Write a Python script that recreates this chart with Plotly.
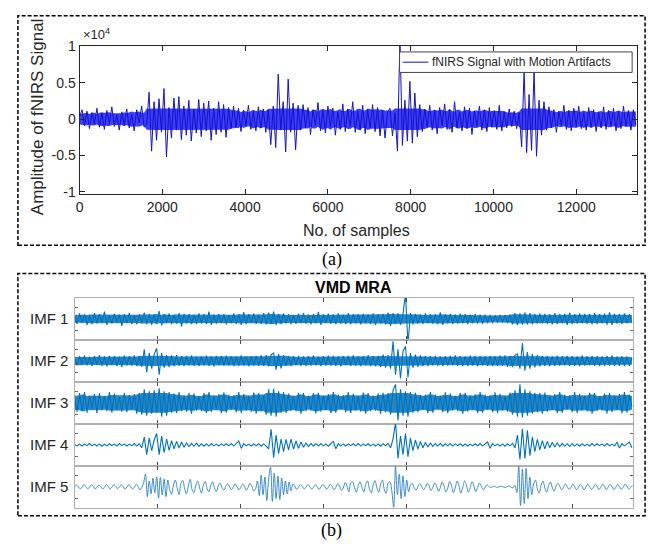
import numpy as np
import pandas as pd
import plotly.graph_objects as go

W, H = 656, 548

# ---------------------------------------------------------------------------
# Data
# ---------------------------------------------------------------------------
n_samples = 13470

# Raw fNIRS amplitude, one reading every 60 samples
fnirs_step = 60
fnirs_signal = [
    300, 1300, -900, 1100, -1300, 900, -700, 1500, -1100, 800,
    -1400, 1200, -600, 1700, -1000, 600, -1500, 1000, -800, 1400,
    -1200, 700, -1600, 1300, -500, 1800, -1100, -800, 3700, -4400,
    2400, -2900, 2800, -1800, 4200, -5200, 1600, -2600, 2900, -1500,
    3100, -2800, 1800, -2200, 2600, -3000, 1400, -1900, 2700, -2400,
    2200, -1600, 2500, -2900, 1500, -2100, 2400, -1800, 2000, -2500,
    1600, -1300, 1800, -1100, 1500, -1700, 1200, -900, 1900, -1400,
    1100, -1600, 1700, -1200, 1400, -1800, 1300, -3500, 1800, -3900,
    6200, -1500, 2400, -4500, 5500, -1800, 2200, -4200, 1900, -1500,
    2000, -1200, 1600, -2100, 1300, -900, 2300, -1600, 1200, -1900,
    1800, -1100, 1500, -2200, 1000, -1400, 2100, -1700, 1400, -1000,
    2400, -1800, 1100, -1500, 1900, -2000, 1300, -1200, 2000, -1700,
    1600, -2300, 1200, -2600, 900, 1500, -2300, 900, -4400, 11000,
    -3600, 2600, -3000, 5200, -3300, 3600, -2400, 2000, -1700, 1400,
    -1100, 1900, -1500, 1200, -2000, 1600, -900, 2100, -1400, 1300,
    -1800, 2400, -1200, 1000, -1600, 1700, -1300, 1500, -2100, 1100,
    -1000, 1800, -1500, 1300, -1700, 1600, -1100, 1200, -1400, 1900,
    -1600, 1000, -1200, 1400, -1000, 1100, -1300, 900, -3800, 6600,
    -4600, 3400, -4300, 6600, -5100, 2600, -2200, 2400, -1500, 1700,
    -1200, 1300, -1800, 1100, -900, 1900, -1400, 1200, -1600, 1500,
    -1000, 1800, -1300, 900, -1500, 1600, -1100, 1300, -1700, 1000,
    -1200, 1700, -1400, 1200, -900, 1500, -1600, 1100, -1300, 1800,
    -1000, 1200, -1500, 1300, -800,
]

# VMD intrinsic mode functions (arbitrary units), one reading every 60 samples
imf_step = 60
imf1 = [
    150, -250, 280, -200, 230, -300, 180, -260, 300, -220,
    250, -180, 380, -300, 200, -240, 260, -200, 220, -350,
    240, -210, 300, -260, 190, -280, 250, -230, 320, -270,
    260, -300, 230, -250, 400, -330, 240, -200, 280, -260,
    220, -240, 300, -380, 260, -220, 240, -270, 210, -250,
    290, -230, 250, -260, 370, -300, 220, -240, 260, -210,
    240, -280, 200, -230, 280, -250, 230, -300, 350, -260,
    240, -200, 270, -250, 220, -260, 300, -280, 330, -260,
    380, -300, 250, -260, 280, -230, 240, -270, 210, -250,
    260, -220, 300, -240, 230, -280, 250, -230, 360, -300,
    240, -200, 270, -250, 230, -260, 280, -240, 220, -260,
    300, -270, 250, -230, 240, -280, 260, -220, 230, -250,
    280, -300, 250, -240, 260, -280, 320, -350, 300, -260,
    280, -300, 250, 1300, -1300, 300, -280, 260, -240, 230,
    -260, 280, -220, 250, -240, 230, -270, 340, -300, 240,
    -220, 260, -250, 230, -240, 270, -230, 250, -260, 220,
    -230, 260, -240, 220, -250, 220, -210, 200, -220, 190,
    -200, 210, -190, 200, -210, 230, -280, 300, -320, 280,
    -290, 320, -280, 300, -260, 250, -240, 270, -230, 260,
    -250, 230, -280, 300, -260, 240, -220, 260, -300, 330,
    -270, 250, -240, 280, -230, 260, -250, 240, -280, 300,
    -260, 250, -230, 270, -290, 340, -300, 260, -240, 250,
    -260, 280, -230, 250, -200,
]
imf2 = [
    120, -240, 260, -200, 280, -230, 210, -270, 250, -220,
    300, -250, 230, -280, 260, -210, 240, -260, 220, -300,
    270, -230, 250, -240, 290, -260, 230, -300, 600, -580,
    420, -400, 350, 650, -700, 400, -350, 300, -320, 280,
    -260, 300, -250, 240, -270, 260, -230, 280, -250, 220,
    -260, 240, -230, 270, -250, 230, -280, 260, -220, 250,
    -240, 270, -230, 250, -260, 220, -250, 280, -240, 230,
    -270, 250, -230, 260, -240, 280, -250, 300, -280, 320,
    400, -450, 350, -380, 300, -270, 250, -260, 240, -230,
    260, -250, 230, -270, 250, -240, 280, -230, 220, -260,
    250, -240, 270, -230, 260, -250, 230, -280, 240, -220,
    260, -250, 280, -240, 230, -270, 250, -230, 300, -260,
    240, -280, 260, -300, 320, -350, 300, -400, 1000, -700,
    600, -900, 500, 750, -850, 400, -350, 320, -300, 280,
    -260, 250, -270, 240, -230, 260, -250, 230, -270, 250,
    -240, 260, -230, 280, -250, 240, -260, 230, -250, 270,
    -230, 240, -260, 250, -220, 230, -250, 240, -260, 230,
    -250, 270, -240, 280, -300, 260, -320, 300, 350, -400,
    900, -500, 450, -400, 350, -330, 300, -280, 260, -250,
    240, -260, 230, -250, 270, -240, 250, -230, 260, -270,
    240, -250, 230, -260, 280, -240, 250, -230, 260, -250,
    240, -270, 230, -250, 260, -240, 280, -260, 230, -250,
    240, -260, 230, -250, 150,
]
imf3 = [
    200, -450, 500, -400, 550, -500, 350, -300, 450, -520,
    500, -380, 330, -420, 550, -500, 480, -350, 300, -450,
    520, -480, 400, -330, 450, -550, 500, -600, 700, -650,
    600, -550, 650, -500, 750, -700, 600, -650, 550, -500,
    480, -520, 550, -420, 380, -450, 520, -550, 480, -400,
    350, -420, 500, -530, 550, -450, 380, -350, 450, -520,
    540, -500, 420, -350, 400, -480, 550, -520, 450, -380,
    350, -450, 530, -550, 500, -400, 380, -600, 700, -650,
    720, -700, 600, -500, 550, -520, 480, -400, 350, -430,
    520, -550, 500, -420, 360, -400, 500, -540, 520, -450,
    380, -360, 450, -530, 550, -500, 420, -350, 400, -480,
    550, -520, 460, -380, 350, -450, 530, -550, 500, -420,
    380, -400, 480, -550, 520, -480, 500, -600, 650, 950,
    -900, 700, -650, 600, -700, 550, -500, 520, -480, 400,
    -360, 430, -520, 550, -500, 420, -350, 380, -470, 540,
    -530, 480, -400, 360, -420, 510, -550, 520, -450, 380,
    -350, 440, -520, 550, -500, 420, -360, 400, -480, 540,
    -520, 460, -380, 350, -450, 530, -600, 650, -700, 950,
    -750, 700, -650, 600, -550, 520, -480, 500, -550, 530,
    -450, 380, -360, 450, -530, 550, -500, 420, -350, 400,
    -480, 550, -520, 450, -380, 360, -440, 520, -550, 500,
    -420, 350, -400, 480, -540, 520, -460, 380, -350, 450,
    -530, 550, -500, 420, -200,
]
imf4 = [
    20, -50, 40, -60, 50, -40, 70, -50, 40, -60,
    50, -70, 40, -50, 60, -40, 50, -60, 70, -40,
    50, -60, 40, -50, 70, -60, 50, -150, 400, -500,
    350, -300, 250, 580, -500, 450, -400, 300, -280, 220,
    -200, 180, -160, 150, -120, 100, -90, 80, -70, 90,
    -80, 60, -70, 50, -60, 70, -50, 40, -60, 50,
    -40, 60, -50, 70, -60, 50, 200, -180, 60, -50,
    40, -60, 50, -40, 60, -70, 50, -60, -200, 800,
    -650, 500, -450, 300, -350, 280, -250, 300, -220, 200,
    -180, 150, -120, 100, -90, 80, -70, 60, -50, 70,
    -60, 50, -70, 60, 180, -200, 60, -50, 40, -60,
    50, -40, 60, -50, 70, -60, 50, -40, 60, -50,
    40, -60, 50, -70, 60, -50, 80, -150, 300, 1150,
    -700, 450, -500, 580, -600, 350, -300, 250, -220, 180,
    -150, 120, -100, 90, -80, 70, -60, 80, -70, 60,
    -50, 70, -60, 50, -40, 60, -70, 50, -60, 40,
    -50, 60, -40, 70, -60, 50, 150, -170, 60, -50,
    40, -60, 50, -70, 60, -50, 80, -150, 500, -750,
    830, -700, 750, -550, 400, -350, 280, -250, 220, -200,
    180, -150, 130, -110, 100, -90, 80, -70, 60, -80,
    70, -60, 50, -70, 60, -50, 40, -60, 70, -50,
    60, -40, 50, -60, 70, -50, 40, -60, 150, -160,
    60, -50, 40, 140, -150,
]
# Slowest mode, one reading every 45 samples
imf5_step = 45
imf5 = [
    0, 90, 20, -100, -30, 110, 10, -90, -20, 100,
    30, -110, -10, 90, 20, -100, -30, 120, 10, -100,
    -20, 110, 30, -90, -10, 100, 20, -120, -20, 110,
    10, -100, -30, 130, 20, -150, -40, 200,
    650, -500, 300, -350, 450, -300, 500, -580, 480, -400, 400, -500, 350,
    -150, -380, 100, 350, -50, -400, 150, 330, -100, -350,
    50, 380, -150, -300, 100, 300, -50, -320, 80, 280,
    -80, -250, 60, 260, -60, -230, 50, 200, -30,
    -160, 20, 150, 30, -140, -20, 160, 20, -150, -30,
    140, 30, -170, -20, 180, 40, -200, -100,
    300, -450, 600, -400, 500, -700, 400, 1000, -750, 700,
    -600, 550, -650, 450, -400, 300, -350, 250, -200, 150,
    30, -120, -20, 110, 30, -100, -20, 120, 10, -110,
    -30, 100, 20, -130, -10, 110, 30, -120, -20, 130,
    20, -150, -30, 160, 40, -180,
    -60, 220, 40, -250, 200, 260, -40, -280, 60, 250,
    -20, -260, 120, 300, -100, -300, 80, 320, -50, -280,
    150, 350, -150, -330, 200, 250, -200,
    -1050, 1050, -400, 650, -600, 550, -500, 350,
    -250, 100, 180, -40, -170, 30, 160, 20, -150, -30,
    170, 40, -190, -20, 200, 60, -230, -40, 250, 50,
    -270, -60, 280, 80, -300, -50,
    300, 60, -320, -40, 300, 80, -280, -60, 260, 40,
    -240, -20, 200, 30, -150, -20, 100,
    20, -30, 10, 30, -20, -10, 20, 30, -20, -30,
    20, 40, -30, -50, 80,
    -300, 1050, -950, 900, -850, 950, -600, 500, -400,
    150, 350, -100, -320, 80, 300, -50, -280, 60, 250,
    -30, -220, 40,
    180, 30, -150, -20, 140, 20, -130, -30, 150, 10,
    -140, -20, 130, 30, -150, -10, 140, 20, -120, -30,
    130, 20, -140, -20, 150, 30, -130, -10, 120, 20,
    -140, -30, 130, 10, -120, -20, 140, 30, -110, -20,
    60,
]

imf_series = [imf1, imf2, imf3, imf4, imf5]
imf_steps = [imf_step, imf_step, imf_step, imf_step, imf5_step]
imf_names = ["IMF 1", "IMF 2", "IMF 3", "IMF 4", "IMF 5"]

x_tick_values = [0, 2000, 4000, 6000, 8000, 10000, 12000]
x_tick_labels = ["0", "2000", "4000", "6000", "8000", "10000", "12000"]
y_tick_values_a = [-10000, -5000, 0, 5000, 10000]
y_tick_labels_a = ["-1", "-0.5", "0", "0.5", "1"]
legend_label = "fNIRS Signal with Motion Artifacts"

# ---------------------------------------------------------------------------
# Helpers
# ---------------------------------------------------------------------------
def fx(px):
    return px / W


def fy(py):
    return 1 - py / H


def dense_band(values, scale=0.85, cap=1.2):
    """Half-width of the solid core of a densely oscillating trace:
    running median of |v|, limited so isolated bursts stay as thin strokes."""
    mag = pd.Series(np.abs(np.asarray(values, dtype=float)))
    core = mag.rolling(5, center=True, min_periods=1).median()
    core = np.minimum(core, cap * mag.median())
    return scale * core.to_numpy()


FONT = "Arial, Liberation Sans, sans-serif"
SERIF = "Times New Roman, Liberation Serif, serif"
AXIS_DARK = "#262626"
ROW_LINE = "#b0b0b0"
MATLAB_BLUE = "#0072BD"

fig = go.Figure()


def add_band(xs, values, color, xaxis, yaxis, scale=0.85, cap=1.2):
    hw = dense_band(values, scale, cap)
    fig.add_trace(go.Scatter(x=xs, y=-hw, mode="lines", line=dict(width=0, color=color),
                             showlegend=False, hoverinfo="skip", xaxis=xaxis, yaxis=yaxis))
    fig.add_trace(go.Scatter(x=xs, y=hw, mode="lines", line=dict(width=0, color=color),
                             fill="tonexty", fillcolor=color, showlegend=False,
                             hoverinfo="skip", xaxis=xaxis, yaxis=yaxis))


# Panel (a): raw signal
xa = np.arange(len(fnirs_signal)) * fnirs_step
add_band(xa, fnirs_signal, "rgba(40,40,255,0.9)", "x", "y", scale=0.8, cap=1.15)
fig.add_trace(go.Scatter(
    x=xa, y=fnirs_signal, mode="lines", name=legend_label,
    line=dict(color="rgb(20,20,190)", width=1.0), xaxis="x", yaxis="y",
    showlegend=False,
))

# Panel (b): stacked VMD modes
for k, (vals, step) in enumerate(zip(imf_series, imf_steps)):
    ax = k + 2
    xs = np.arange(len(vals)) * step
    if k < 3:
        add_band(xs, vals, "rgba(0,114,189,0.85)", f"x{ax}", f"y{ax}")
    fig.add_trace(go.Scatter(
        x=xs, y=vals, mode="lines", showlegend=False,
        line=dict(color=MATLAB_BLUE if k < 4 else "#2a80c2",
                  width=1.1 if k < 4 else 0.9,
                  shape="spline" if k == 4 else "linear"),
        xaxis=f"x{ax}", yaxis=f"y{ax}",
    ))

layout = dict(
    width=W, height=H,
    margin=dict(l=0, r=0, t=0, b=0),
    paper_bgcolor="white", plot_bgcolor="white",
    font=dict(family=FONT, size=14, color=AXIS_DARK),
    showlegend=False,
)

layout["xaxis"] = dict(
    domain=[fx(76), fx(637)], anchor="y", range=[0, n_samples],
    tickvals=x_tick_values, ticktext=x_tick_labels,
    ticks="inside", ticklen=5, tickcolor=AXIS_DARK,
    showline=True, linecolor=AXIS_DARK, linewidth=1, mirror="ticks",
    showgrid=False, zeroline=False, tickfont=dict(size=14),
)
layout["yaxis"] = dict(
    domain=[fy(191), fy(39)], anchor="x", range=[-10350, 10050],
    tickvals=y_tick_values_a, ticktext=y_tick_labels_a,
    ticks="inside", ticklen=5, tickcolor=AXIS_DARK,
    showline=True, linecolor=AXIS_DARK, linewidth=1, mirror="ticks",
    showgrid=False, zeroline=False, tickfont=dict(size=14),
)

row_top, row_h = 297, 43
for k in range(5):
    ax = k + 2
    top = row_top + k * row_h
    layout[f"xaxis{ax}"] = dict(
        domain=[fx(71), fx(633)], anchor=f"y{ax}", range=[0, n_samples],
        tickvals=x_tick_values[1:], ticks="inside", ticklen=4, tickcolor="#4a4a4a",
        showticklabels=False, showline=True, linecolor=ROW_LINE, linewidth=1,
        mirror="ticks", showgrid=False, zeroline=False,
    )
    layout[f"yaxis{ax}"] = dict(
        domain=[fy(top + row_h), fy(top)], anchor=f"x{ax}", range=[-1075, 1075],
        tickvals=[-600, 600], ticks="inside", ticklen=3, tickcolor="#6a6a6a",
        showticklabels=False, showline=True, linecolor=ROW_LINE, linewidth=1,
        mirror="ticks", showgrid=False, zeroline=False,
    )

annotations = [
    dict(text="Amplitude of fNIRS Signal", x=fx(34), y=fy(111), textangle=-90,
         font=dict(size=17)),
    dict(text="\u00d710<sup>4</sup>", x=fx(77), y=fy(27), xanchor="left",
         font=dict(size=13)),
    dict(text="No. of samples", x=fx(355), y=fy(228), font=dict(size=16)),
    dict(text="(a)", x=fx(330), y=fy(258), font=dict(family=SERIF, size=18, color="black")),
    dict(text="<b>VMD MRA</b>", x=fx(352), y=fy(286), font=dict(size=16, color="black")),
    dict(text="(b)", x=fx(330), y=fy(535), font=dict(family=SERIF, size=18, color="black")),
    dict(text=legend_label, x=fx(429), y=fy(55.5), xanchor="left",
         font=dict(size=12)),
]
for k, name in enumerate(imf_names):
    cy = row_top + k * row_h + row_h / 2
    annotations.append(dict(text=name, x=fx(66), y=fy(cy), xanchor="right",
                            font=dict(size=15)))
for a in annotations:
    a.setdefault("xref", "paper")
    a.setdefault("yref", "paper")
    a.setdefault("showarrow", False)
    a.setdefault("xanchor", "center")
    a.setdefault("yanchor", "middle")
layout["annotations"] = annotations

frame = dict(color="black", width=1.5, dash="4px,2px")
layout["shapes"] = [
    dict(type="rect", xref="paper", yref="paper",
         x0=fx(14), x1=fx(645), y0=fy(243), y1=fy(8), line=frame),
    dict(type="rect", xref="paper", yref="paper",
         x0=fx(14), x1=fx(645), y0=fy(520), y1=fy(272), line=frame),
    # legend box and its line sample
    dict(type="rect", xref="paper", yref="paper", fillcolor="white",
         x0=fx(398), x1=fx(632), y0=fy(66), y1=fy(45),
         line=dict(color="#444444", width=1)),
    dict(type="line", xref="paper", yref="paper",
         x0=fx(401), x1=fx(427), y0=fy(55.5), y1=fy(55.5),
         line=dict(color="rgb(20,20,200)", width=1)),
]

fig.update_layout(**layout)
fig.write_html("out.html")
